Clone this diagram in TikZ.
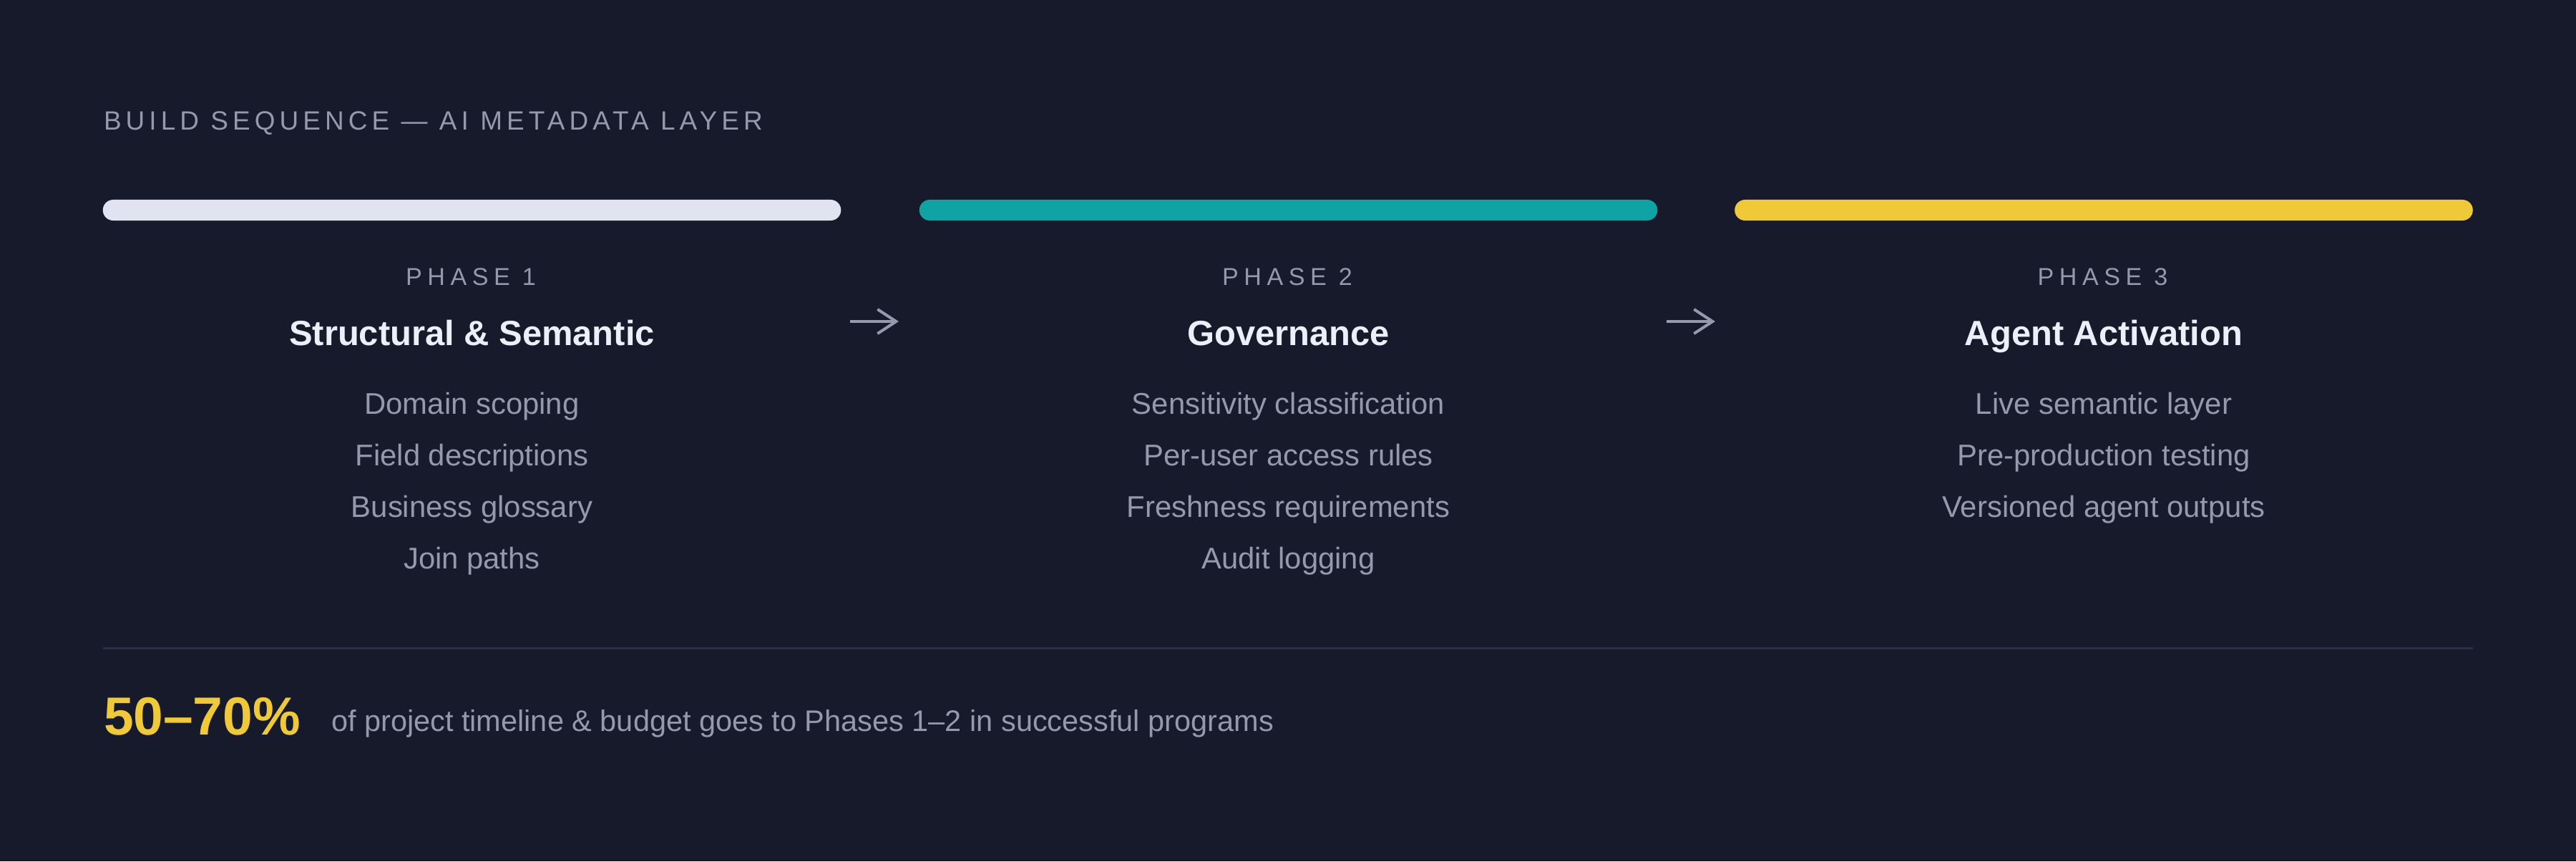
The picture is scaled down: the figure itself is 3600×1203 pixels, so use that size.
\documentclass[tikz,border=0pt]{standalone}
\usepackage{fontspec}
\setmainfont{Liberation Sans}
\usepackage{xcolor}
\usetikzlibrary{positioning, arrows.meta}
\definecolor{bg}{HTML}{161A2B}
\definecolor{muted}{HTML}{9698AB}
\definecolor{heading}{HTML}{ECEEF8}
\definecolor{barwhite}{HTML}{E1E4F0}
\definecolor{barteal}{HTML}{10A3A3}
\definecolor{baryellow}{HTML}{F0C93B}
\definecolor{rulecol}{HTML}{2B2E45}
\tikzset{>={Straight Barb[length=2.6mm, width=3.4mm]},
         every node/.style={inner sep=0pt, outer sep=0pt},
         phasebar/.style={rectangle, rounded corners=1.45mm, minimum width=10.31cm, minimum height=2.9mm},
         toptitle/.style={anchor=base west, text=muted, font=\fontsize{10.5}{12}\selectfont\addfontfeature{LetterSpace=16.5}},
         phaselabel/.style={anchor=base, text=muted, font=\fontsize{9.7}{12}\selectfont\addfontfeature{LetterSpace=22}},
         phasetitle/.style={anchor=base, text=heading, font=\fontsize{13.9}{16}\selectfont\bfseries},
         item/.style={anchor=base, text=muted, font=\fontsize{11.9}{14}\selectfont},
         flow/.style={->, draw=muted, line width=0.4mm},
         divider/.style={draw=rulecol, line width=0.3mm},
         stat/.style={anchor=base west, text=baryellow, font=\fontsize{21.3}{24}\selectfont\bfseries},
         note/.style={anchor=base west, text=muted, font=\fontsize{11.8}{14}\selectfont},
         }

\begin{document}
\begin{tikzpicture}[x=0.01cm, y=-0.01cm]
    \fill[bg] (0,0) rectangle (3600,1203);
    \useasboundingbox (0,0) rectangle (3600,1203);

    \node[toptitle] (title) at (145,181) {BUILD SEQUENCE — AI METADATA LAYER};

    % phase bars
    \node[phasebar, fill=barwhite] (bar1) at (659.5,293.5) {};
    \node[phasebar, fill=barteal] (bar2) at (1800.5,293.5) {};
    \node[phasebar, fill=baryellow] (bar3) at (2940,293.5) {};

    % phase headers
    \node[phaselabel] (ph1) at (658,398) {PHASE 1};
    \node[phaselabel] (ph2) at (1799,398) {PHASE 2};
    \node[phaselabel] (ph3) at (2938.5,398) {PHASE 3};
    \node[phasetitle] (t1) at (659.5,482) {Structural \& Semantic};
    \node[phasetitle] (t2) at (1800.5,482) {Governance};
    \node[phasetitle] (t3) at (2940,482) {Agent Activation};

    % phase items
    \foreach \txt [count=\i] in {Domain scoping, Field descriptions, Business glossary, Join paths}
        \node[item] (a\i) at (659.5,{578+72.3*(\i-1)}) {\txt};
    \foreach \txt [count=\i] in {Sensitivity classification, Per-user access rules, Freshness requirements, Audit logging}
        \node[item] (b\i) at (1800.5,{578+72.3*(\i-1)}) {\txt};
    \foreach \txt [count=\i] in {Live semantic layer, Pre-production testing, Versioned agent outputs}
        \node[item] (c\i) at (2940,{578+72.3*(\i-1)}) {\txt};

    % arrows between phases
    \coordinate (f1s) at (1188,449);
    \coordinate (f1e) at (1256,449);
    \coordinate (f2s) at (2329,449);
    \coordinate (f2e) at (2397,449);
    \draw[flow] (f1s) -- (f1e);
    \draw[flow] (f2s) -- (f2e);

    % footer
    \coordinate (rl) at (144,905.5);
    \coordinate (rr) at (3456,905.5);
    \draw[divider] (rl) -- (rr);
    \node[stat] (pct) at (145,1026) {50–70\%};
    \node[note] (desc) at (463,1021) {of project timeline \& budget goes to Phases 1–2 in successful programs};
\end{tikzpicture}
\end{document}
